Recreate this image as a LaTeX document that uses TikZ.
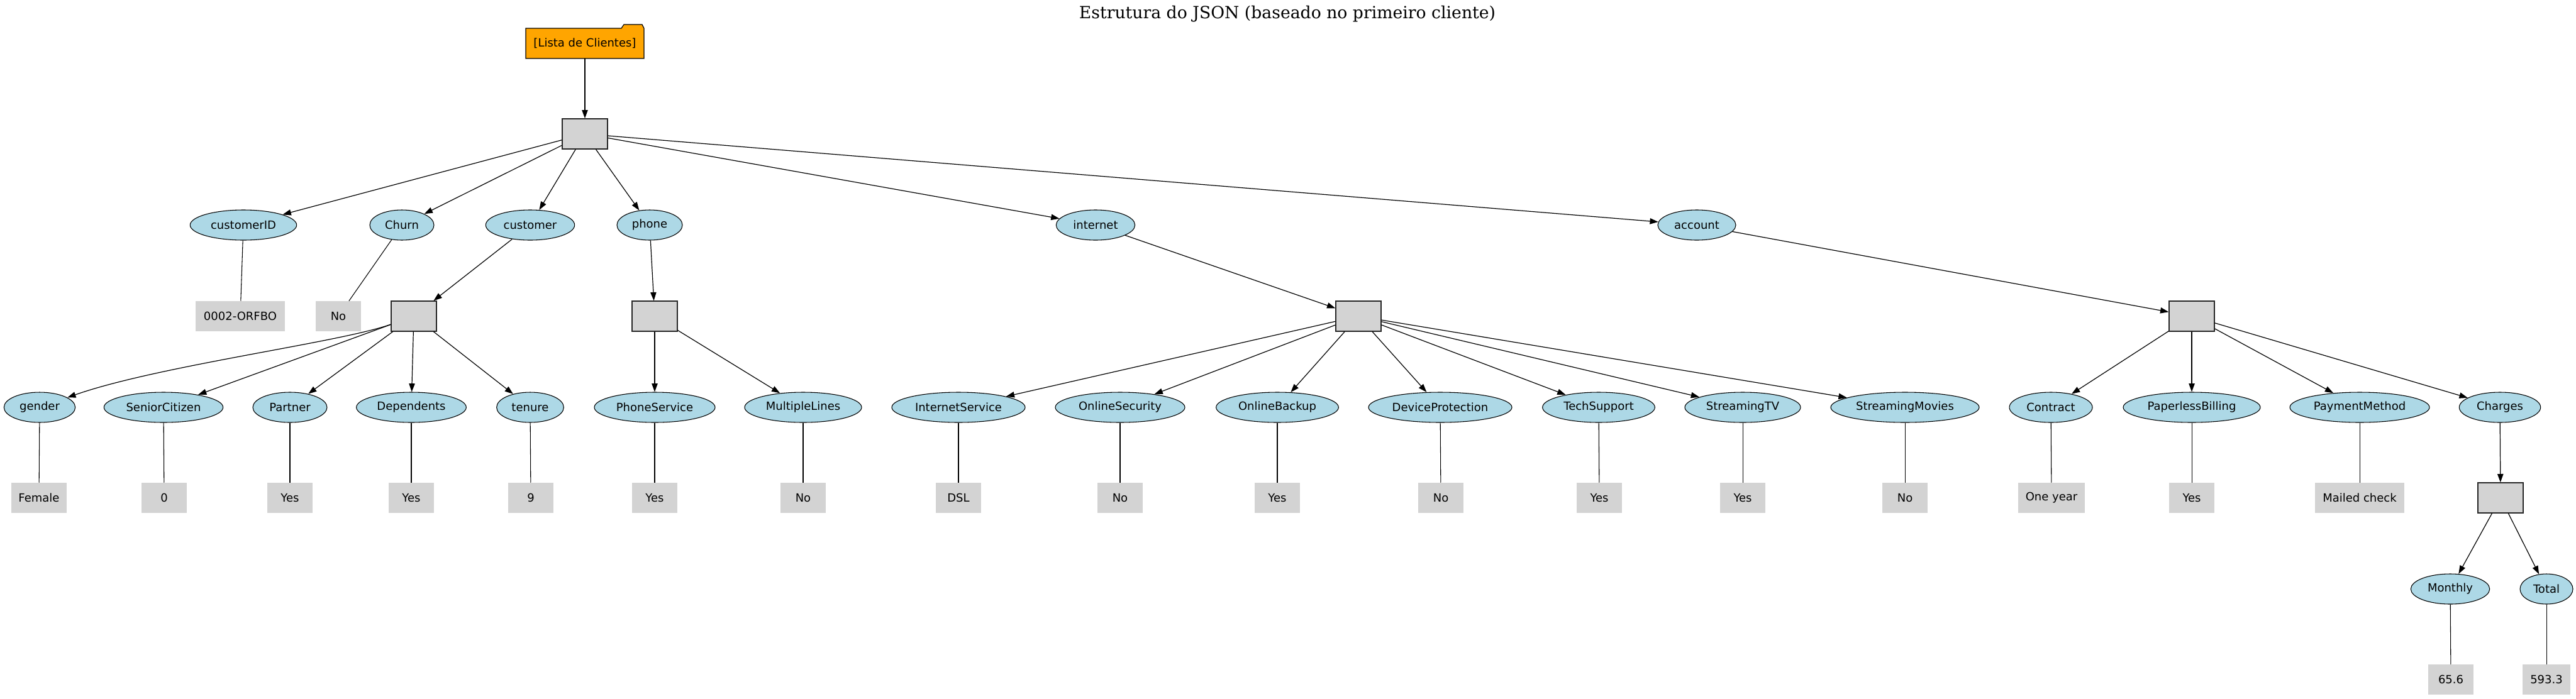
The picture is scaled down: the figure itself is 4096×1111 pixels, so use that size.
\documentclass[tikz,border=0pt]{standalone}
\usepackage{fontspec}
\newfontfamily\gvsans{DejaVu Sans}
\newfontfamily\gvserif{DejaVu Serif}
\usetikzlibrary{shapes.geometric,arrows.meta}
\definecolor{gvblue}{HTML}{ADD8E6}
\definecolor{gvgray}{HTML}{D3D3D3}
\definecolor{gvorange}{HTML}{FFA500}
\newcommand\zw[1]{\makebox[0pt]{#1}}
\begin{document}
\begin{tikzpicture}[x=0.75pt,y=-0.75pt,
  font=\gvsans\fontsize{13.5}{16}\selectfont,
  keynode/.style={ellipse, draw=black, line width=0.8pt, fill=gvblue, inner sep=0pt, minimum height=36pt, minimum width=#1},
  valnode/.style={rectangle, fill=gvgray, inner sep=0pt, minimum height=36pt, minimum width=#1},
  valnode/.default=54pt,
  boxnode/.style={rectangle, fill=gvgray, draw=black!85, line width=1pt, minimum width=54pt, minimum height=36pt, inner sep=0pt},
  arr/.style={-{Triangle[length=10pt,width=7pt]}, line width=0.9pt},
  vline/.style={line width=0.8pt}]
\useasboundingbox (0,0) rectangle (4096,1111);

% title
\node[font=\gvserif\fontsize{20}{24}\selectfont] (title) at (2047,22) {Estrutura do JSON (baseado no primeiro cliente)};

% folder
\draw[fill=gvorange, line width=0.9pt] (836,45) -- (988,45) -- (992,39) -- (1021,39) -- (1024,45) -- (1024,93) -- (836,93) -- cycle;
\node[rectangle, minimum width=141pt, minimum height=36pt, inner sep=0pt] (list) at (930,69) {[Lista de Clientes]};

% root
\node[boxnode] (root) at (930,213) {};

% level 2
\node[keynode=127pt] (cid) at (387,358) {\zw{customerID}};
\node[keynode=76.5pt] (churn) at (639,358) {\zw{Churn}};
\node[keynode=106pt] (cust) at (843,358) {\zw{customer}};
\node[keynode=78pt] (phone) at (1033,358) {\zw{phone}};
\node[keynode=94pt] (inet) at (1742,358) {\zw{internet}};
\node[keynode=93pt] (acct) at (2698,358) {\zw{account}};

% level 3
\node[valnode=107pt] (vcid) at (382,503) {0002-ORFBO};
\node[valnode] (vchurn) at (538,503) {No};
\node[boxnode] (cbox) at (658,503) {};
\node[boxnode] (pbox) at (1041,503) {};
\node[boxnode] (ibox) at (2160,503) {};
\node[boxnode] (abox) at (3485,503) {};

% level 4
\node[keynode=85pt] (gender) at (63,648) {\zw{gender}};
\node[keynode=142pt] (senior) at (260,648) {\zw{SeniorCitizen}};
\node[keynode=88.5pt] (partner) at (461,648) {\zw{Partner}};
\node[keynode=131pt] (dep) at (654,648) {\zw{Dependents}};
\node[keynode=80pt] (tenure) at (843,648) {\zw{tenure}};
\node[keynode=144pt] (psvc) at (1041,648) {\zw{PhoneService}};
\node[keynode=139.5pt] (mlines) at (1277,648) {\zw{MultipleLines}};
\node[keynode=159pt] (isvc) at (1524,648) {\zw{InternetService}};
\node[keynode=154.5pt] (osec) at (1781,648) {\zw{OnlineSecurity}};
\node[keynode=146pt] (obak) at (2031,648) {\zw{OnlineBackup}};
\node[keynode=171pt] (dprot) at (2290,648) {\zw{DeviceProtection}};
\node[keynode=134pt] (tsup) at (2542,648) {\zw{TechSupport}};
\node[keynode=138pt] (stv) at (2771,648) {\zw{StreamingTV}};
\node[keynode=177pt] (smov) at (3029,648) {\zw{StreamingMovies}};
\node[keynode=99pt] (contract) at (3261,648) {\zw{Contract}};
\node[keynode=163.5pt] (paper) at (3485,648) {\zw{PaperlessBilling}};
\node[keynode=166.5pt] (pay) at (3752,648) {\zw{PaymentMethod}};
\node[keynode=97pt] (charges) at (3975,648) {\zw{Charges}};

% level 5
\node[valnode=66pt] (vgender) at (62,792) {Female};
\node[valnode] (vsenior) at (261,792) {0};
\node[valnode] (vpartner) at (461,792) {Yes};
\node[valnode] (vdep) at (654,792) {Yes};
\node[valnode] (vtenure) at (844,792) {9};
\node[valnode] (vpsvc) at (1041,792) {Yes};
\node[valnode] (vmlines) at (1277,792) {No};
\node[valnode] (visvc) at (1524,792) {DSL};
\node[valnode] (vosec) at (1781,792) {No};
\node[valnode] (vobak) at (2031,792) {Yes};
\node[valnode] (vdprot) at (2291,792) {No};
\node[valnode] (vtsup) at (2543,792) {Yes};
\node[valnode] (vstv) at (2771,792) {Yes};
\node[valnode] (vsmov) at (3029,792) {No};
\node[valnode=80pt] (vcontract) at (3262,792) {One year};
\node[valnode] (vpaper) at (3485,792) {Yes};
\node[valnode=107pt] (vpay) at (3752,792) {Mailed check};
\node[boxnode] (chbox) at (3976,792) {};

% level 6/7
\node[keynode=94pt] (monthly) at (3896,937) {\zw{Monthly}};
\node[keynode=63pt] (total) at (4049,937) {\zw{Total}};
\node[valnode] (vmonthly) at (3897,1081) {65.6};
\node[valnode=57pt] (vtotal) at (4049,1081) {593.3};

% edges with arrows
\draw[arr] (list) -- (root);
\foreach \t in {cid,churn,cust,phone,inet,acct} \draw[arr] (root) -- (\t);
\draw[arr] (cust) -- (cbox);
\draw[arr] (phone) -- (pbox);
\draw[arr] (inet) -- (ibox);
\draw[arr] (acct) -- (abox);
\draw[arr] (cbox) .. controls (540,545) and (250,582) .. (gender);
\foreach \t in {senior,partner,dep,tenure} \draw[arr] (cbox) -- (\t);
\foreach \t in {psvc,mlines} \draw[arr] (pbox) -- (\t);
\foreach \t in {isvc,osec,obak,dprot,tsup,stv,smov} \draw[arr] (ibox) -- (\t);
\foreach \t in {contract,paper,pay,charges} \draw[arr] (abox) -- (\t);
\draw[arr] (charges) -- (chbox);
\foreach \t in {monthly,total} \draw[arr] (chbox) -- (\t);

% key-value lines
\foreach \k in {cid,churn,gender,senior,partner,dep,tenure,psvc,mlines,isvc,osec,obak,dprot,tsup,stv,smov,contract,paper,pay,monthly,total}
  \draw[vline] (\k) -- (v\k);
\end{tikzpicture}
\end{document}
